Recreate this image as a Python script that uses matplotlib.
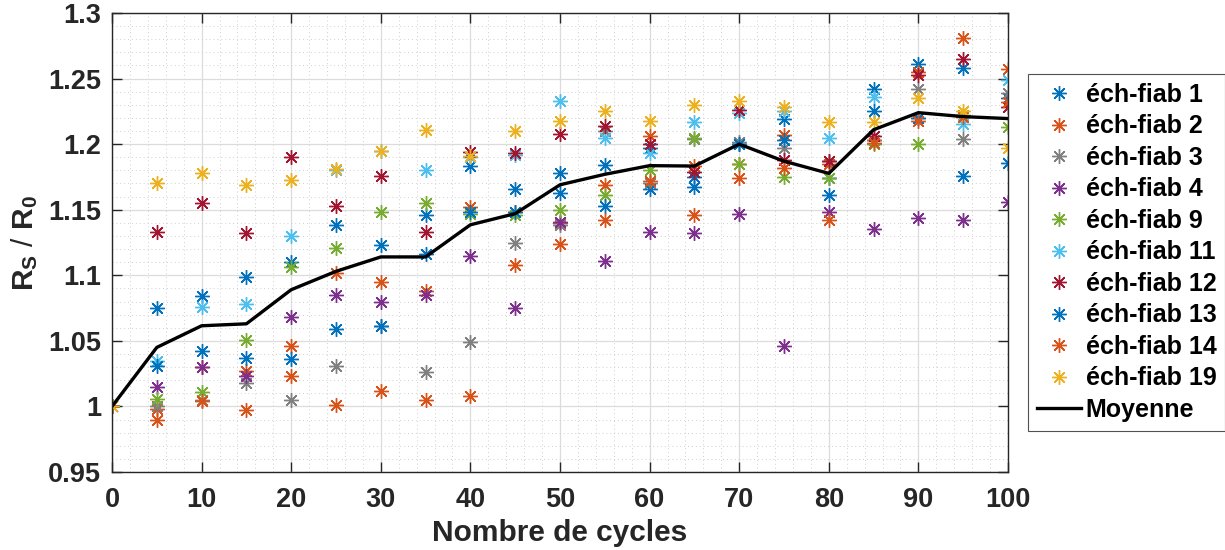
import numpy as np
import matplotlib
matplotlib.use("Agg")
import matplotlib.pyplot as plt
from matplotlib.ticker import MultipleLocator, FormatStrFormatter

plt.rcParams['font.family'] = ['Liberation Sans', 'DejaVu Sans']
plt.rcParams['font.weight'] = 'bold'
plt.rcParams['mathtext.fontset'] = 'custom'
plt.rcParams['mathtext.rm'] = 'Liberation Sans:bold'
plt.rcParams['mathtext.it'] = 'Liberation Sans:bold'
plt.rcParams['mathtext.bf'] = 'Liberation Sans:bold'
plt.rcParams['mathtext.default'] = 'rm'

# cycles
cycles = [0, 5, 10, 15, 20, 25, 30, 35, 40, 45, 50, 55, 60, 65, 70, 75, 80, 85, 90, 95, 100]

# Rs/R0 per sample
ech_1 = [1, 1.075, 1.084, 1.099, 1.110, 1.138, 1.123, 1.146, 1.183, 1.166, 1.178, 1.184, 1.197,
         1.175, 1.200, 1.219, 1.174, 1.242, 1.261, 1.258, 1.235]
ech_2 = [1, 0.998, 1.030, 1.027, 1.046, 1.102, 1.095, 1.088, 1.152, 1.148, 1.140, 1.169, 1.206,
         1.183, 1.185, 1.207, 1.185, 1.203, 1.255, 1.281, 1.257]
ech_3 = [1, 1.000, 1.005, 1.018, 1.005, 1.031, 1.061, 1.026, 1.049, 1.125, 1.138, 1.210, 1.170,
         1.204, 1.202, 1.197, 1.187, 1.203, 1.242, 1.204, 1.239]
ech_4 = [1, 1.015, 1.030, 1.023, 1.068, 1.085, 1.080, 1.085, 1.115, 1.075, 1.141, 1.111, 1.133,
         1.132, 1.147, 1.046, 1.148, 1.135, 1.144, 1.142, 1.156]
ech_9 = [1, 1.006, 1.011, 1.051, 1.106, 1.121, 1.148, 1.155, 1.147, 1.146, 1.150, 1.161, 1.180,
         1.205, 1.185, 1.175, 1.174, 1.200, 1.200, 1.222, 1.213]
ech_11 = [1, 1.035, 1.076, 1.078, 1.130, 1.180, 1.195, 1.180, 1.190, 1.192, 1.233, 1.205, 1.193,
          1.217, 1.224, 1.225, 1.205, 1.236, 1.220, 1.215, 1.249]
ech_12 = [1, 1.133, 1.155, 1.132, 1.190, 1.153, 1.176, 1.133, 1.194, 1.193, 1.208, 1.214, 1.200,
          1.179, 1.226, 1.188, 1.187, 1.206, 1.253, 1.265, 1.228]
ech_13 = [1, 1.031, 1.042, 1.037, 1.036, 1.059, 1.061, 1.116, 1.148, 1.148, 1.163, 1.153, 1.166,
          1.167, 1.200, 1.203, 1.161, 1.225, 1.220, 1.176, 1.186]
ech_14 = [1, 0.990, 1.004, 0.997, 1.023, 1.001, 1.012, 1.005, 1.008, 1.108, 1.124, 1.142, 1.172,
          1.146, 1.174, 1.182, 1.142, 1.201, 1.218, 1.221, 1.232]
ech_19 = [1, 1.170, 1.178, 1.169, 1.173, 1.181, 1.195, 1.211, 1.191, 1.210, 1.218, 1.225, 1.218,
          1.230, 1.233, 1.228, 1.217, 1.217, 1.235, 1.225, 1.197]

moyenne = [1, 1.045, 1.0615, 1.063, 1.089, 1.103, 1.114, 1.114, 1.1385, 1.147, 1.169, 1.177, 1.1836,
           1.1833, 1.200, 1.187, 1.1777, 1.211, 1.224, 1.221, 1.2195]

labels = ['éch-fiab 1', 'éch-fiab 2', 'éch-fiab 3', 'éch-fiab 4', 'éch-fiab 9',
          'éch-fiab 11', 'éch-fiab 12', 'éch-fiab 13', 'éch-fiab 14', 'éch-fiab 19']
series = [ech_1, ech_2, ech_3, ech_4, ech_9, ech_11, ech_12, ech_13, ech_14, ech_19]
colors = [(0, 0.447, 0.741), (0.85, 0.325, 0.098), (0.5, 0.5, 0.5), (0.494, 0.184, 0.556),
          (0.466, 0.674, 0.188), (0.301, 0.745, 0.933), (0.635, 0.078, 0.184),
          (0, 0.447, 0.741), (0.85, 0.325, 0.098), (0.929, 0.694, 0.125)]

fig = plt.figure(figsize=(12.25, 5.5), dpi=100)
ax = fig.add_axes([112 / 1225, 1 - 472 / 550, (1008 - 112) / 1225, (472 - 13) / 550])

asterisk = (8, 2, 0)
for vals, lab, col in zip(series, labels, colors):
    ax.plot(cycles, vals, linestyle='none', marker=asterisk, markersize=10.5,
            markeredgewidth=1.0, color=col, label=lab)
ax.plot(cycles, moyenne, color='black', linewidth=2.4, label='Moyenne')

ax.set_xlim(0, 100)
ax.set_ylim(0.95, 1.3)
ax.xaxis.set_major_locator(MultipleLocator(10))
ax.xaxis.set_minor_locator(MultipleLocator(2))
ax.yaxis.set_major_locator(MultipleLocator(0.05))
ax.yaxis.set_minor_locator(MultipleLocator(0.01))
ax.yaxis.set_major_formatter(FormatStrFormatter('%g'))

ax.grid(True, which='major', color='#dcdcdc', linewidth=0.9)
ax.grid(True, which='minor', color='#cfcfcf', linestyle=(0, (1, 3)), linewidth=0.7)
ax.set_axisbelow(True)

ax.tick_params(which='major', direction='in', length=7, width=1, top=True, right=True,
               colors='#262626', labelsize=19.5)
ax.tick_params(axis='x', which='major', pad=11)
ax.tick_params(axis='y', which='major', pad=8)
ax.tick_params(which='minor', length=0)
for t in ax.get_xticklabels() + ax.get_yticklabels():
    t.set_fontweight('bold')
for s in ax.spines.values():
    s.set_color('#262626')
    s.set_linewidth(1)

ax.set_xlabel('Nombre de cycles', fontsize=21.5, fontweight='bold', color='#262626', labelpad=4)
ax.set_ylabel(r'$R_S$ / $R_0$', fontsize=21.5, color='#262626', labelpad=6)

leg = fig.legend(loc='upper left', bbox_to_anchor=(1028 / 1225, 1 - 74 / 550), fontsize=18,
                 frameon=True, fancybox=False, edgecolor='#262626', borderpad=0.35,
                 labelspacing=0.3, handlelength=1.75, handletextpad=0.2, borderaxespad=0)
leg.get_frame().set_linewidth(0.8)
for t in leg.get_texts():
    t.set_fontweight('bold')

fig.savefig('out.png', dpi=100)
